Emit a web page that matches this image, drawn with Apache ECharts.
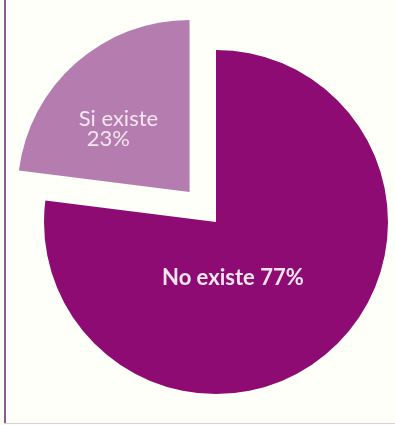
<!DOCTYPE html>
<html><head><meta charset="utf-8">
<script src="https://cdn.jsdelivr.net/npm/echarts@6/dist/echarts.min.js"></script>
<style>
html,body{margin:0;padding:0;background:#fffffa;}
#c{position:absolute;left:0;top:0;width:395px;height:425px;}
#bl{position:absolute;left:4px;top:0;width:2px;height:424px;background:#8a5a90;}
#bb{position:absolute;left:4px;top:423px;width:391px;height:1px;background:#e6c8e0;}
</style></head><body>
<div id="c"></div><div id="bl"></div><div id="bb"></div>
<script>
const categories = ['No existe', 'Si existe'];
const values = [77, 23];
const colors = ['#8d0b73', '#b47caf'];

const chart = echarts.init(document.getElementById('c'), null, {renderer:'canvas'});
chart.setOption({
  backgroundColor: 'transparent',
  animation: false,
  series: [{
    type: 'pie',
    center: [216, 222],
    radius: [0, 172],
    startAngle: 90,
    clockwise: true,
    selectedMode: 'single',
    selectedOffset: 40,
    silent: true,
    label: {
      show: true,
      position: 'inside',
      color: '#f4e6f0',
      fontFamily: 'Lato',
      fontSize: 22
    },
    labelLine: {show: false},
    data: [
      {
        name: categories[0], value: values[0],
        itemStyle: {color: colors[0]},
        label: {formatter: '{b} {d}%', fontWeight: 'bold', fontSize: 22}
      },
      {
        name: categories[1], value: values[1], selected: true,
        itemStyle: {color: colors[1]},
        label: {
          formatter: '{a|{b}}\n{p|{d}%}',
          rich: {
            a: {width: 84, align: 'left', fontSize: 22, fontFamily: 'Lato', color: '#f4e6f0', lineHeight: 20},
            p: {width: 76, padding: [0, 0, 0, 8], align: 'left', fontSize: 22, fontFamily: 'Lato', color: '#f4e6f0', lineHeight: 20}
          }
        }
      }
    ],
    labelLayout: function (p) {
      if (p.dataIndex === 0) return {dx: -42, dy: -11};
      return {dx: -10, dy: 4};
    }
  }]
});
</script></body></html>
